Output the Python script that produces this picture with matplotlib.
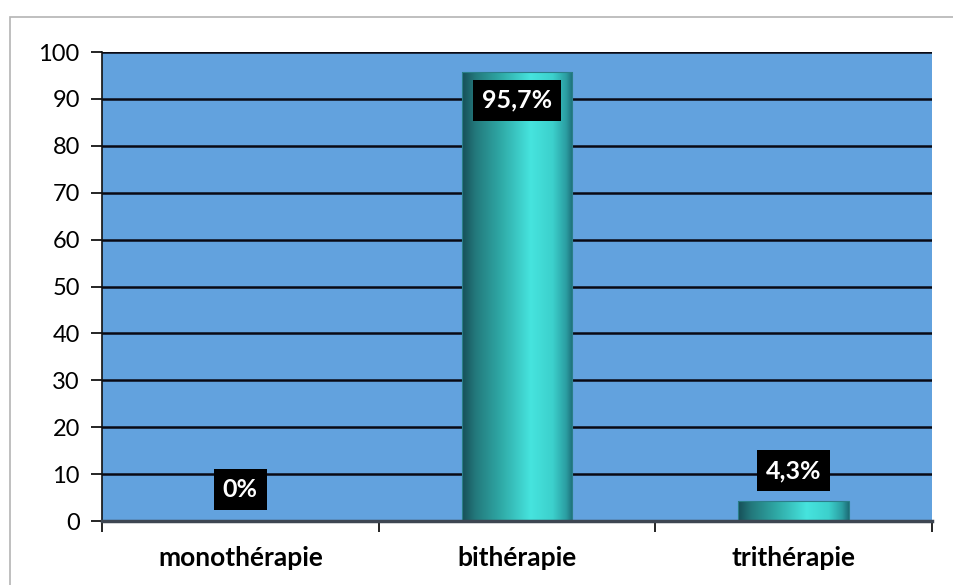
import matplotlib.pyplot as plt
import numpy as np
from matplotlib.colors import LinearSegmentedColormap
from matplotlib.patches import Rectangle

categories = ['monothérapie', 'bithérapie', 'trithérapie']
values = [0, 95.7, 4.3]
value_labels = ['0%', '95,7%', '4,3%']
label_y = [6.8, 89.7, 10.7]
yticks = list(range(0, 101, 10))

plt.rcParams['font.family'] = ['Lato', 'DejaVu Sans']

fig = plt.figure(figsize=(9.54, 5.85), dpi=100)
ax = fig.add_axes([0.1069, 0.1094, 0.8701, 0.8017])

# outer chart frame
fig.patches.append(Rectangle((10 / 954, -0.1), 1.2, 1 - 17 / 585 + 0.1,
                             transform=fig.transFigure, fill=False,
                             edgecolor='#b4b4b4', linewidth=1.2))

ax.set_facecolor('#62a2de')
x = np.arange(len(categories))
ax.set_xlim(-0.5, len(categories) - 0.5)
ax.set_ylim(0, 100)

for y in yticks[1:]:
    ax.axhline(y, color='#0a0a14', linewidth=1.8, zorder=1)

# cylinder-like shading for the bars
cyl = LinearSegmentedColormap.from_list('cyl', [
    (0.0, '#164f58'), (0.12, '#23797c'), (0.35, '#2fa9a6'),
    (0.62, '#46e4de'), (0.82, '#3cd0cc'), (0.94, '#2b9ea2'), (1.0, '#1d6e78')])
grad = np.linspace(0, 1, 256).reshape(1, -1)

bars = ax.bar(x, values, width=0.4, color='none', edgecolor='#2a7f88',
              linewidth=0.8, zorder=3)
for b in bars:
    if b.get_height() <= 0:
        continue
    im = ax.imshow(grad, cmap=cyl, aspect='auto', zorder=2,
                   extent=(b.get_x(), b.get_x() + b.get_width(), 0, b.get_height()))
    im.set_clip_path(b)

for xi, ly, txt in zip(x, label_y, value_labels):
    ax.text(xi, ly, txt, ha='center', va='center', color='white',
            fontsize=18, fontweight='bold', zorder=5,
            bbox=dict(facecolor='black', edgecolor='none', pad=6.5))

ax.set_yticks(yticks)
ax.set_yticklabels([str(t) for t in yticks], fontsize=17)
ax.set_xticks([-0.5, 0.5, 1.5, 2.5])
ax.set_xticklabels([])
ax.set_xticks(x, minor=True)
ax.set_xticklabels(categories, minor=True, fontsize=19, fontweight='bold')
ax.tick_params(axis='x', which='minor', length=0, pad=18)
ax.tick_params(axis='x', which='major', length=8, width=1.2, direction='out')
ax.tick_params(axis='y', length=8, width=1.2, direction='out', pad=8)

for side in ['top', 'right']:
    ax.spines[side].set_visible(False)
ax.spines['left'].set_color('#111111')
ax.spines['left'].set_linewidth(1.2)
ax.spines['bottom'].set_color('#3e4652')
ax.spines['bottom'].set_linewidth(2.5)
ax.spines['bottom'].set_zorder(4)

fig.savefig('out.png', dpi=100)
